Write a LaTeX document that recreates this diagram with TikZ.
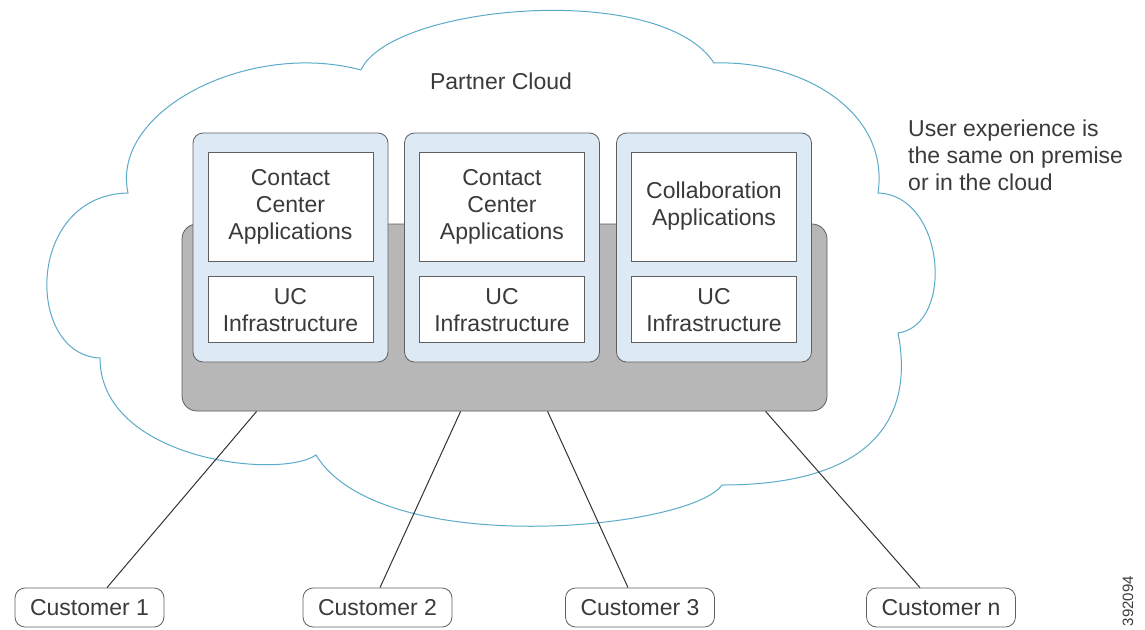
\documentclass[tikz,border=0pt]{standalone}
\usepackage{fontspec}
\setmainfont{Liberation Sans}
\usepackage{tikz}
\usetikzlibrary{positioning}
\definecolor{cloudblue}{HTML}{5AAAC8}
\definecolor{podblue}{HTML}{DDE9F5}
\definecolor{basegray}{HTML}{B7B7B7}
\definecolor{edgegray}{HTML}{5F5F5F}
\definecolor{textgray}{HTML}{3A3A3A}

\begin{document}
\begin{tikzpicture}[x=1pt,y=-1pt,font=\fontsize{23}{27}\selectfont,text=textgray,
    pod/.style={draw=edgegray,fill=podblue,rounded corners=10pt,minimum width=195pt,minimum height=229pt,line width=0.8pt},
    appbox/.style={draw=edgegray,fill=white,minimum width=165pt,minimum height=109pt,align=center,inner sep=0pt,line width=0.8pt},
    ucbox/.style={appbox,minimum height=66pt},
    custbox/.style={draw=edgegray,rounded corners=10pt,minimum width=149pt,minimum height=39pt,inner sep=0pt,line width=0.8pt},
    link/.style={draw=black!80,line width=1pt}]
  \useasboundingbox (0,0) rectangle (1145,629);
  % cloud outline
  \draw[cloudblue,line width=1pt] (361,70) .. controls (390,5) and (660,-20) .. (714,63)
    .. controls (800,60) and (890,110) .. (878,193)
    .. controls (945,195) and (955,325) .. (898,333)
    .. controls (915,420) and (870,485) .. (722,485)
    .. controls (690,530) and (380,560) .. (316,455)
    .. controls (280,480) and (100,460) .. (100,358)
    .. controls (25,355) and (25,195) .. (128,193)
    .. controls (110,110) and (250,40) .. (361,70);
  \node(title) at (501,81){Partner Cloud};
  % platform and hosted pods
  \node[draw=edgegray,fill=basegray,rounded corners=15pt,minimum width=645pt,minimum height=187pt,line width=0.8pt](base) at (504.5,317.5){};
  \node[pod](pod1) at (290.5,247.5){};
  \node[pod](pod2) at (502,247.5){};
  \node[pod](pod3) at (714,247.5){};
  \node[appbox,below=19pt of pod1.north](app1){Contact\\Center\\Applications};
  \node[appbox,below=19pt of pod2.north](app2){Contact\\Center\\Applications};
  \node[appbox,below=19pt of pod3.north](app3){Collaboration\\Applications};
  \node[ucbox,below=15pt of app1](uc1){UC\\Infrastructure};
  \node[ucbox,below=15pt of app2](uc2){UC\\Infrastructure};
  \node[ucbox,below=15pt of app3](uc3){UC\\Infrastructure};
  \node[anchor=north west,align=left,inner sep=0pt](note) at (908,120){User experience is\\the same on premise\\or in the cloud};
  % customers
  \node[custbox](cust1) at (89.5,607.5){Customer 1};
  \node[custbox](cust2) at (377.5,607.5){Customer 2};
  \node[custbox](cust3) at (640,607.5){Customer 3};
  \node[custbox](cust4) at (941,607.5){Customer n};
  \draw[link] ([xshift=75pt]base.south west) -- ([xshift=17.5pt]cust1.north);
  \draw[link] ([xshift=279pt]base.south west) -- ([xshift=2.5pt]cust2.north);
  \draw[link] ([xshift=366pt]base.south west) -- ([xshift=-12pt]cust3.north);
  \draw[link] ([xshift=584pt]base.south west) -- ([xshift=-21pt]cust4.north);
  \node[rotate=90,font=\fontsize{15}{15}\selectfont](figid) at (1128,601){392094};
\end{tikzpicture}
\end{document}
